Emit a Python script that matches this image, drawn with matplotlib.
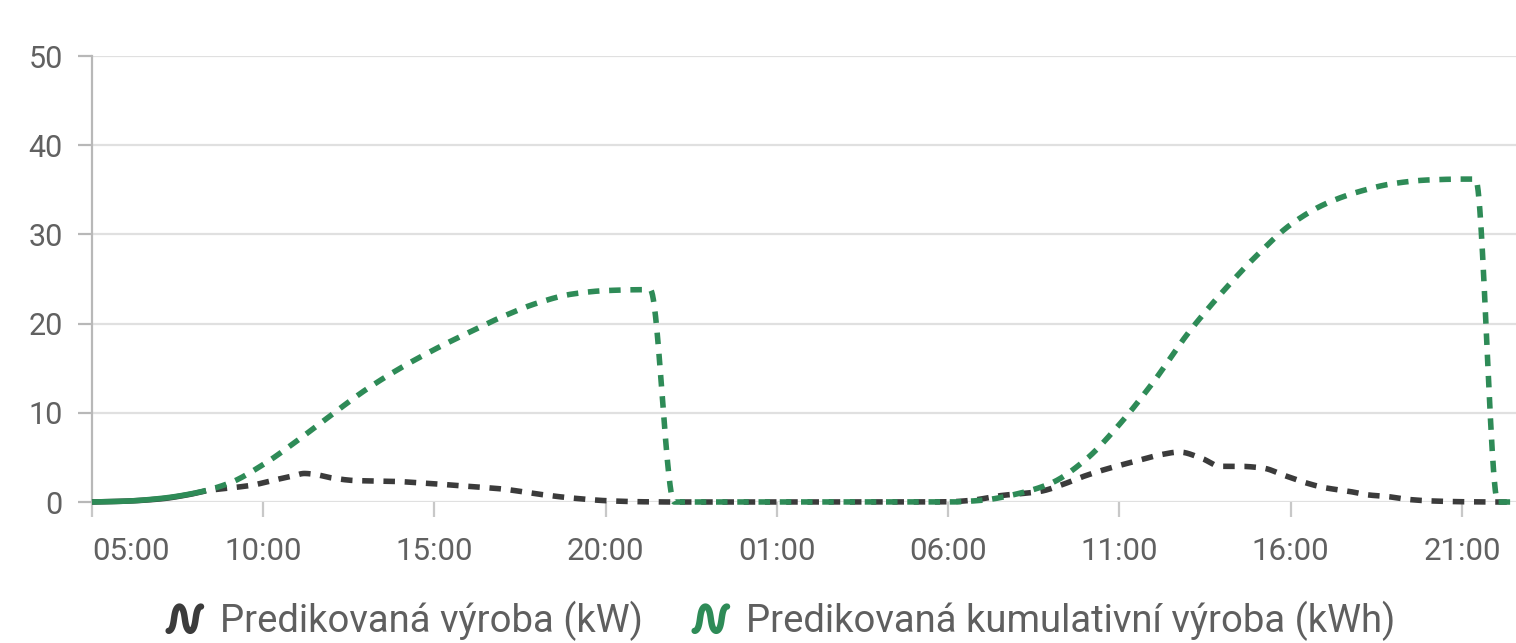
import numpy as np
import matplotlib
matplotlib.use("Agg")
import matplotlib.pyplot as plt
from matplotlib.lines import Line2D
from matplotlib.legend_handler import HandlerBase

# ---------------- data (hours since 00:00 of day 1) ----------------
power_t = [5, 6, 7, 7.85, 8.4, 9.1, 9.7, 10.25, 10.85, 11.2, 11.5, 12.0, 12.7, 13.3,
           13.9, 14.55, 15.15, 16.0, 17.0, 18.0, 19.0, 20.0, 21.0, 22.0,
           25.0, 28.0, 30.0, 30.7, 31.5, 32.7, 33.3, 33.9, 34.45, 35.0, 35.6, 36.2, 36.75,
           37.4, 37.95, 38.5, 39.2, 39.8, 40.4, 41.0, 41.7, 42.25, 42.85, 43.4, 44.1, 45.0,
           46.0, 46.58]
power_kw = [0, 0.1, 0.35, 0.85, 1.3, 1.6, 1.9, 2.4, 2.9, 3.2, 3.1, 2.7, 2.4, 2.35,
            2.3, 2.15, 2.0, 1.75, 1.45, 0.9, 0.45, 0.15, 0.03, 0,
            0, 0, 0.02, 0.2, 0.7, 1.2, 1.9, 2.8, 3.5, 4.1, 4.7, 5.3, 5.6,
            4.9, 4.0, 4.0, 3.8, 3.0, 2.2, 1.6, 1.2, 0.8, 0.6, 0.3, 0.12, 0.03,
            0, 0]

cum_t = [5, 6, 7, 8, 9, 10, 11, 12, 13, 14, 15, 16, 17, 18, 19, 20, 21, 21.3,
         22.0, 25.0, 28.0, 30.0, 31.0, 32.0, 33.0, 34.0, 35.0, 36.0, 37.0, 38.0, 39.0,
         40.0, 41.0, 42.0, 43.0, 44.0, 45.0, 45.4, 46.05, 46.58]
cum_kwh = [0, 0.1, 0.4, 1.0, 2.1, 4.2, 6.9, 9.8, 12.6, 15.0, 17.1, 19.0, 20.8, 22.3,
           23.3, 23.7, 23.8, 23.8,
           0, 0, 0, 0, 0.2, 0.9, 2.1, 4.7, 8.7, 13.5, 18.9, 23.5, 27.6,
           31.1, 33.4, 34.8, 35.7, 36.1, 36.2, 36.2, 0, 0]

now_t = 8.0  # boundary between solid (past) and dashed (forecast)
x_ticks = [5, 10, 15, 20, 25, 30, 35, 40, 45]
x_labels = ["05:00", "10:00", "15:00", "20:00", "01:00", "06:00", "11:00", "16:00", "21:00"]
y_ticks = [0, 10, 20, 30, 40, 50]
series_names = ["Predikovaná výroba (kW)", "Predikovaná kumulativní výroba (kWh)"]
series_colors = ["#3b3b3b", "#2e8b57"]


def monotone(x, y, xn):
    x = np.asarray(x, float); y = np.asarray(y, float)
    h = np.diff(x); d = np.diff(y) / h
    m = np.zeros_like(y)
    m[0], m[-1] = d[0], d[-1]
    for i in range(1, len(y) - 1):
        if d[i - 1] * d[i] <= 0:
            m[i] = 0
        else:
            w1 = 2 * h[i] + h[i - 1]
            w2 = h[i] + 2 * h[i - 1]
            m[i] = (w1 + w2) / (w1 / d[i - 1] + w2 / d[i])
    idx = np.clip(np.searchsorted(x, xn) - 1, 0, len(x) - 2)
    hh = h[idx]
    s = (xn - x[idx]) / hh
    h00 = 2 * s**3 - 3 * s**2 + 1
    h10 = s**3 - 2 * s**2 + s
    h01 = -2 * s**3 + 3 * s**2
    h11 = s**3 - s**2
    return h00 * y[idx] + h10 * hh * m[idx] + h01 * y[idx + 1] + h11 * hh * m[idx + 1]


plt.rcParams['font.family'] = ['Roboto', 'DejaVu Sans']
plt.rcParams['lines.scale_dashes'] = False

W, H = 1516, 643
fig = plt.figure(figsize=(W / 100, H / 100), dpi=100)
ax = fig.add_axes([92 / W, 141 / H, 1 - 92 / W, 446 / H])

lw = 4.0
dash = (8.3, 7.0)
for (t, v), col, z in [((power_t, power_kw), series_colors[0], 3),
                       ((cum_t, cum_kwh), series_colors[1], 4)]:
    xs_solid = np.linspace(t[0], now_t, 60)
    xs_dash = np.linspace(now_t, t[-1], 3000)
    ax.plot(xs_solid, monotone(t, v, xs_solid), color=col, lw=lw, solid_capstyle='butt',
            clip_on=False, zorder=z)
    ax.plot(xs_dash, monotone(t, v, xs_dash), color=col, lw=lw, dashes=dash,
            dash_capstyle='butt', clip_on=False, zorder=z)

ax.set_xlim(5, 46.58)
ax.set_ylim(0, 50)
ax.set_yticks(y_ticks)
ax.set_xticks(x_ticks)
ax.set_xticklabels(x_labels)
ax.get_xticklabels()[0].set_horizontalalignment('left')

for s in ['top', 'right', 'bottom']:
    ax.spines[s].set_visible(False)
ax.spines['left'].set_color('#b8b8b8')
ax.spines['left'].set_linewidth(1.6)
ax.yaxis.grid(True, color='#e0e0e0', lw=1.6)
ax.set_axisbelow(True)
ax.tick_params(axis='y', length=10, width=1.6, color='#b8b8b8', labelsize=22,
               labelcolor='#616161', pad=11)
ax.tick_params(axis='x', length=11, width=1.6, color='#c8c8c8', labelsize=22.5,
               labelcolor='#616161', pad=14)


class WaveHandler(HandlerBase):
    def create_artists(self, legend, orig_handle, xdescent, ydescent, width, height,
                       fontsize, trans):
        t = np.linspace(0, 1, 120)
        u = t + 0.5 * np.sin(6 * np.pi * t) / (6 * np.pi)
        xs = -xdescent + u * width
        ys = -ydescent + height / 2 - (height * 0.5) * np.cos(3 * np.pi * t)
        ln = Line2D(xs, ys, color=orig_handle.get_color(), lw=4.6,
                    solid_capstyle='round', solid_joinstyle='round', transform=trans)
        return [ln]


handles = [Line2D([], [], color=c) for c in series_colors]
fig.legend(handles, series_names, loc='center', bbox_to_anchor=(782 / W, 1 - 621 / H),
           ncol=2, frameon=False, fontsize=27.5, labelcolor='#5f5f5f',
           handlelength=0.85, handleheight=0.6, handletextpad=0.5, columnspacing=1.35,
           borderpad=0, handler_map={h: WaveHandler() for h in handles})

fig.savefig("out.png", dpi=100)
